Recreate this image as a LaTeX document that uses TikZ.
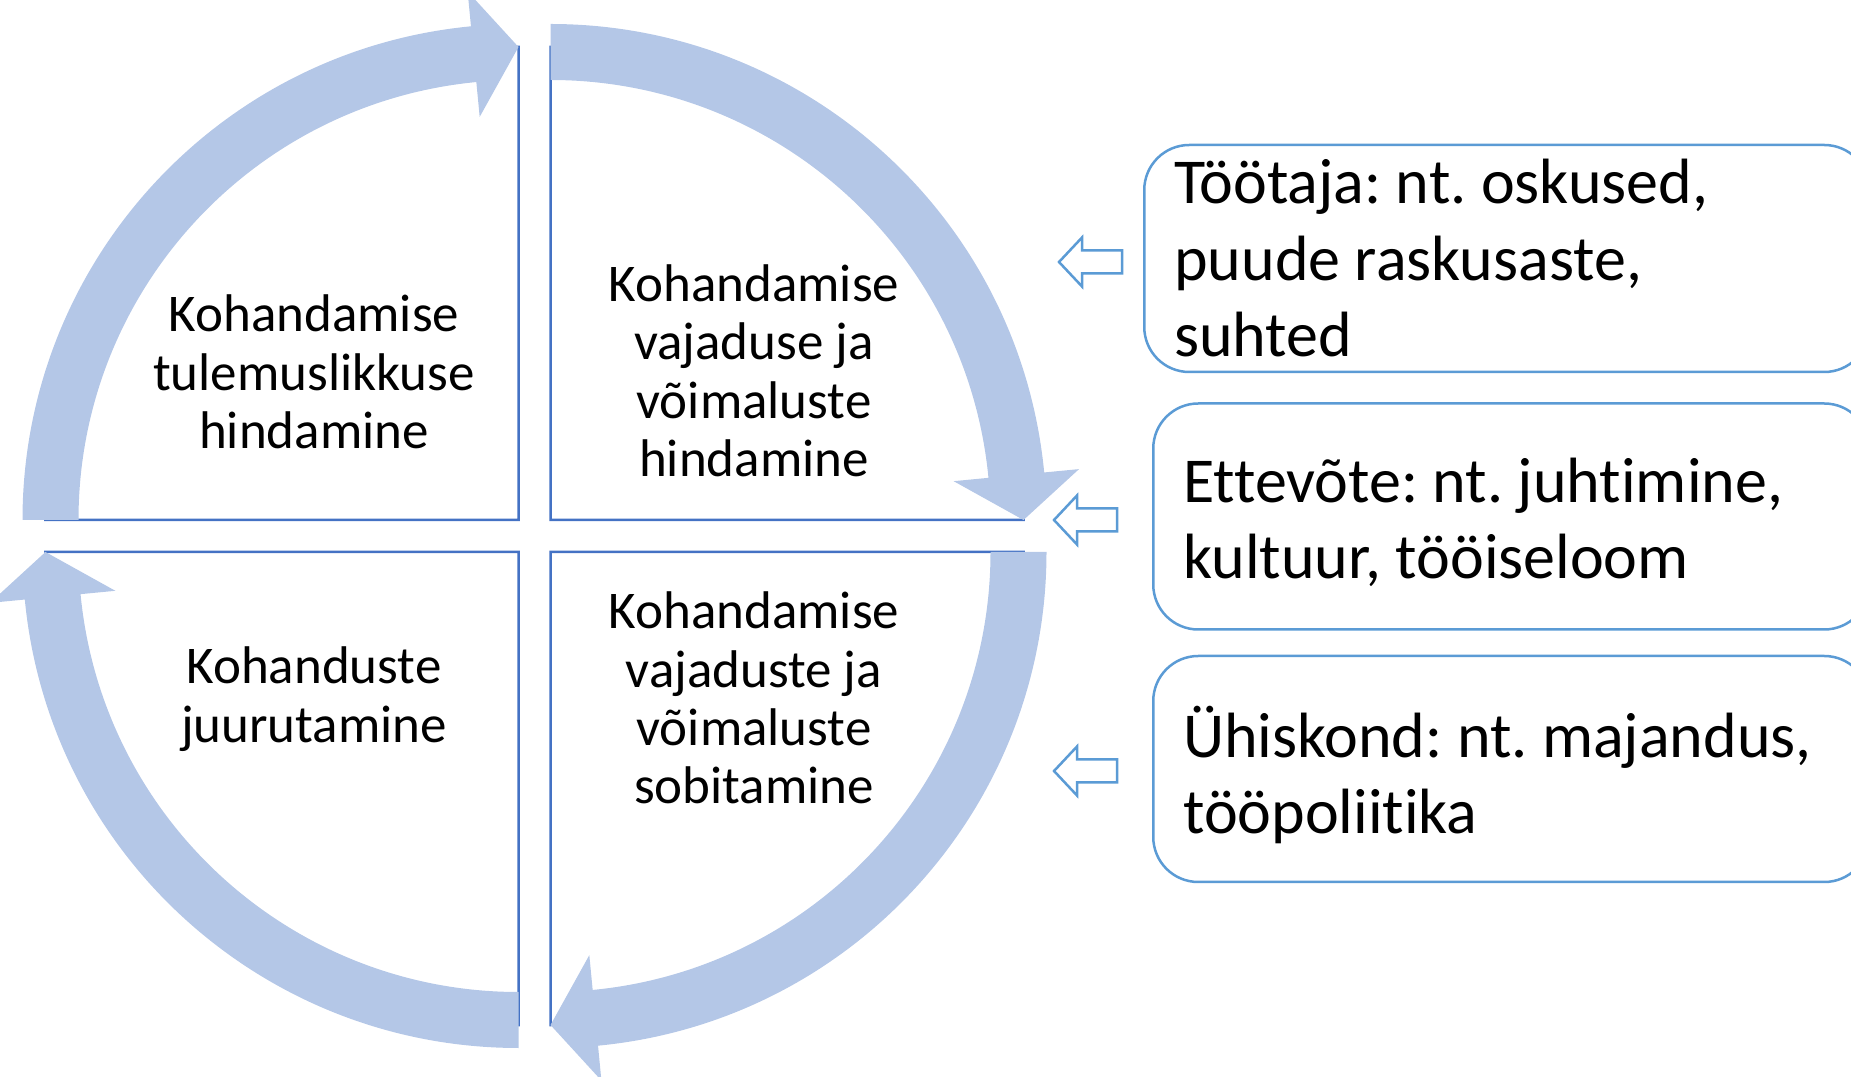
\documentclass[tikz,border=0pt]{standalone}
\usepackage{fontspec}
\setmainfont{Carlito}[Ligatures=NoCommon]
\usetikzlibrary{calc}
\definecolor{ringblue}{HTML}{B4C7E7}
\definecolor{quadblue}{HTML}{4472C4}
\definecolor{sideblue}{HTML}{5B9BD5}

\begin{document}
\frenchspacing
\begin{tikzpicture}[x=1pt,y=1pt,
  quad/.style={draw=quadblue, line width=2.5pt},
  qtext/.style={align=center, inner sep=0pt, font=\fontsize{53}{58.4}\selectfont},
  sidebox/.style={draw=sideblue, line width=2.5pt, rounded corners=45pt, fill=white, anchor=west},
  sidetext/.style={anchor=west, align=left, inner xsep=31pt, font=\fontsize{64}{76.5}\selectfont},
  hollow/.style={draw=sideblue, line width=2.5pt, fill=white, line join=miter},
  ring/.style={fill=ringblue}]
\useasboundingbox (0,0) rectangle (1851,1076);
\clip (0,0) rectangle (1851,1076);

\node[sidebox, minimum width=725pt, minimum height=227pt] (s1) at (1143,817.5) {};
\node[sidebox, minimum width=716pt, minimum height=226pt] (s2) at (1152,559.5) {};
\node[sidebox, minimum width=716pt, minimum height=226pt] (s3) at (1152,307) {};
\node[sidetext] (l1) at (s1.west) {Töötaja: nt. oskused,\\puude raskusaste,\\suhted};
\node[sidetext] (l2) at ($(s2.west)+(0,-6)$) {Ettevõte: nt. juhtimine,\\kultuur, tööiseloom};
\node[sidetext] (l3) at ($(s3.west)+(0,-6)$) {Ühiskond: nt. majandus,\\tööpoliitika};

\coordinate (p1) at (1059,814);
\coordinate (p2) at (1054,556);
\coordinate (p3) at (1054,305);
\draw[hollow] (p1) -- ++(23,24.5) -- ++(0,-13) -- ++(40,0) -- ++(0,-23) -- ++(-40,0) -- ++(0,-13) -- cycle;
\draw[hollow] (p2) -- ++(23,24.5) -- ++(0,-13) -- ++(40,0) -- ++(0,-23) -- ++(-40,0) -- ++(0,-13) -- cycle;
\draw[hollow] (p3) -- ++(23,24.5) -- ++(0,-13) -- ++(40,0) -- ++(0,-23) -- ++(-40,0) -- ++(0,-13) -- cycle;

\coordinate (c1) at (518.5,556);
\coordinate (c2) at (550.5,556);
\coordinate (c3) at (550.5,524);
\coordinate (c4) at (518.5,524);
\draw[quad] (c1) -- ($(c1)+(180:473pt)$) arc[start angle=180, end angle=90, radius=473pt] -- cycle;
\draw[quad] (c2) -- ($(c2)+(90:473pt)$) arc[start angle=90, end angle=0, radius=473pt] -- cycle;
\draw[quad] (c3) -- ($(c3)+(0:473pt)$) arc[start angle=0, end angle=-90, radius=473pt] -- cycle;
\draw[quad] (c4) -- ($(c4)+(-90:473pt)$) arc[start angle=-90, end angle=-180, radius=473pt] -- cycle;

\fill[ring] ($(c1)+(180:496pt)$) arc[start angle=180, end angle=95.5, radius=496pt] -- ($(c1)+(95.5:531pt)$) -- ($(c1)+(90:473pt)$) -- ($(c1)+(95.5:405pt)$) -- ($(c1)+(95.5:440pt)$) arc[start angle=95.5, end angle=180, radius=440pt] -- cycle;
\fill[ring] ($(c2)+(90:496pt)$) arc[start angle=90, end angle=5.5, radius=496pt] -- ($(c2)+(5.5:531pt)$) -- ($(c2)+(0:473pt)$) -- ($(c2)+(5.5:405pt)$) -- ($(c2)+(5.5:440pt)$) arc[start angle=5.5, end angle=90, radius=440pt] -- cycle;
\fill[ring] ($(c3)+(0:496pt)$) arc[start angle=0, end angle=-84.5, radius=496pt] -- ($(c3)+(-84.5:531pt)$) -- ($(c3)+(-90:473pt)$) -- ($(c3)+(-84.5:405pt)$) -- ($(c3)+(-84.5:440pt)$) arc[start angle=-84.5, end angle=0, radius=440pt] -- cycle;
\fill[ring] ($(c4)+(-90:496pt)$) arc[start angle=-90, end angle=-174.5, radius=496pt] -- ($(c4)+(-174.5:531pt)$) -- ($(c4)+(-180:473pt)$) -- ($(c4)+(-174.5:405pt)$) -- ($(c4)+(-174.5:440pt)$) arc[start angle=-174.5, end angle=-90, radius=440pt] -- cycle;

\node[qtext] (t1) at (314,704) {Kohandamise\\tulemuslikkuse\\hindamine};
\node[qtext] (t2) at (754,705) {Kohandamise\\vajaduse ja\\võimaluste\\hindamine};
\node[qtext] (t3) at (754,378) {Kohandamise\\vajaduste ja\\võimaluste\\sobitamine};
\node[qtext] (t4) at (314,377) {Kohanduste\\juurutamine};
\end{tikzpicture}
\end{document}
